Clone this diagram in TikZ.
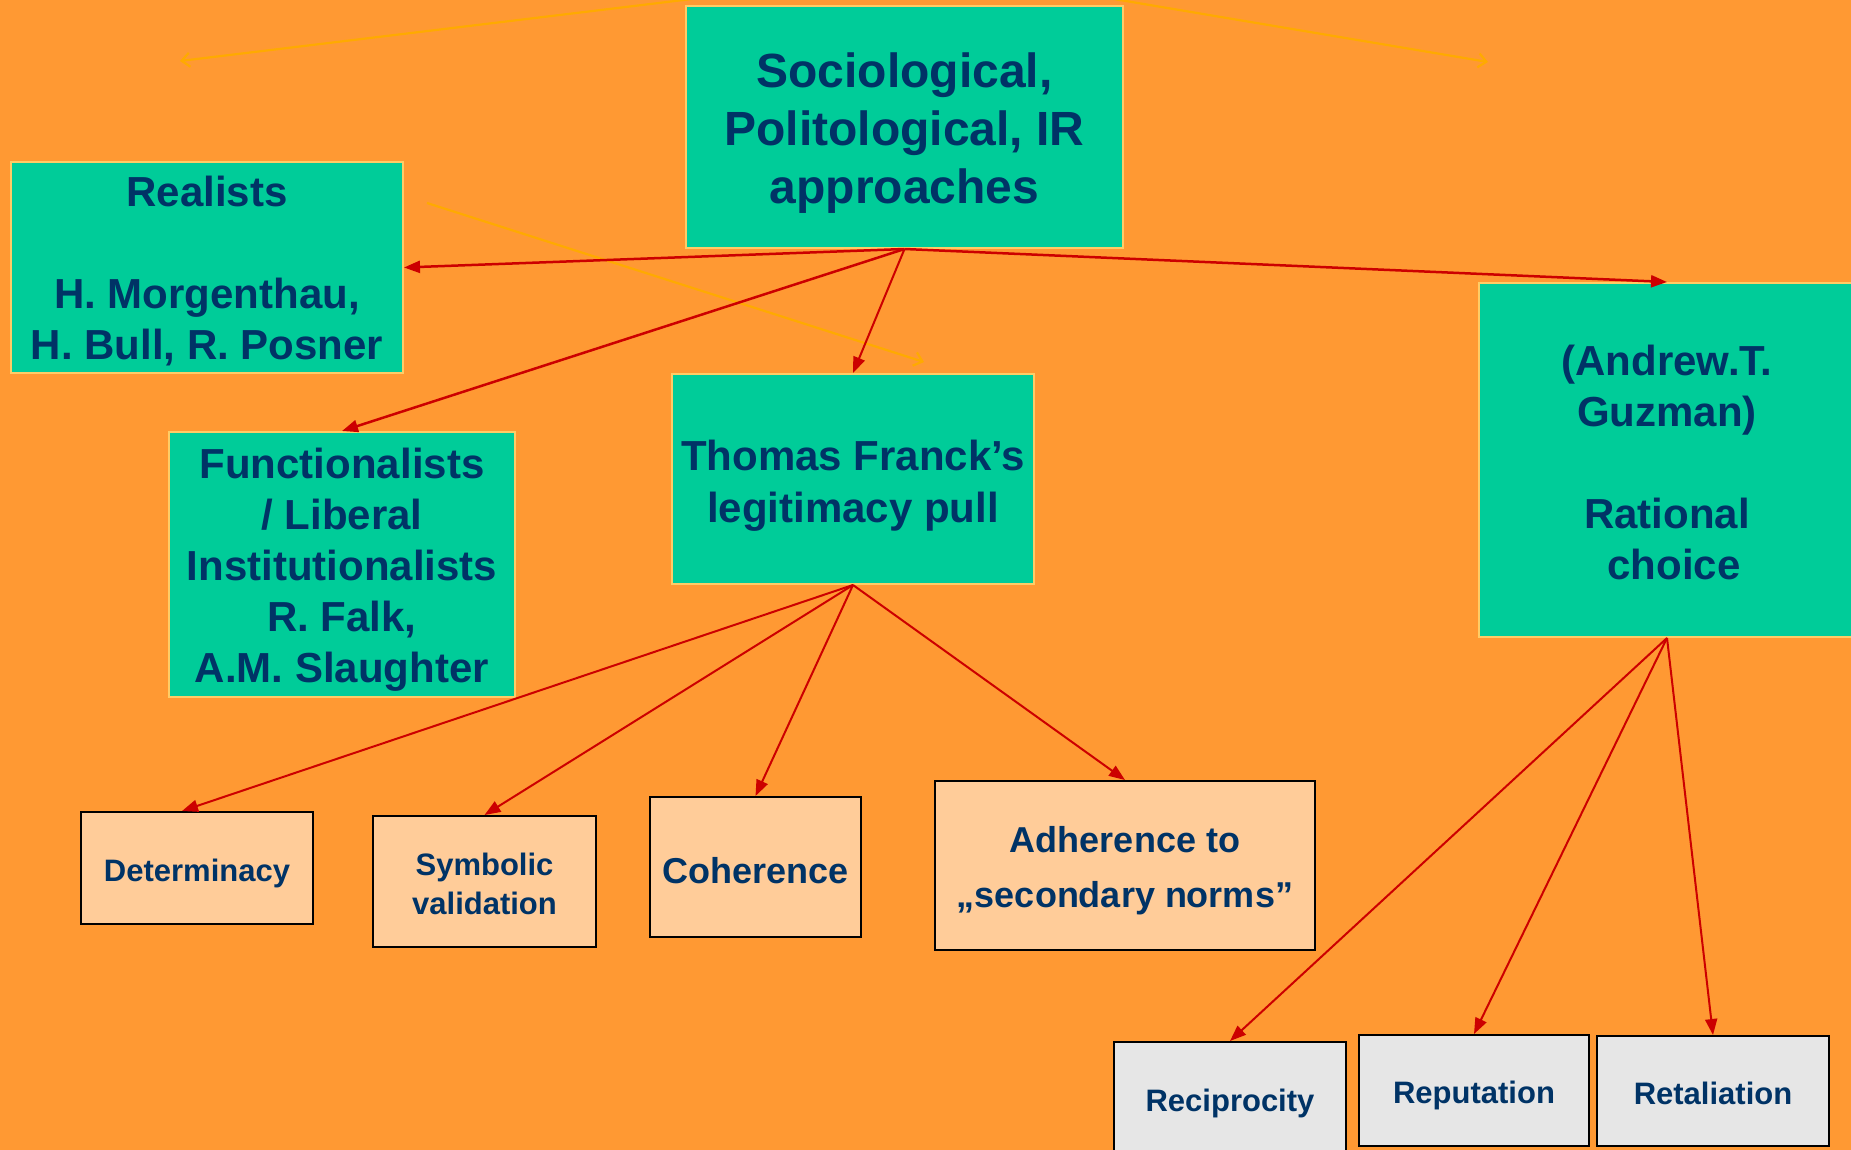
\documentclass[tikz,border=0pt]{standalone}
\usepackage{fontspec}
\setmainfont{Liberation Sans}
\usetikzlibrary{arrows.meta,calc}
\definecolor{bg}{HTML}{FF9933}
\definecolor{grn}{HTML}{00CC99}
\definecolor{navy}{HTML}{003366}
\definecolor{beige}{HTML}{FFCC99}
\definecolor{lgray}{HTML}{E6E6E6}
\definecolor{redline}{HTML}{CC0000}
\definecolor{goldline}{HTML}{FFAA00}
\definecolor{gborder}{HTML}{FFCC66}
\begin{document}
\begin{tikzpicture}[x=1pt,y=-1pt,
  gbox/.style={draw=gborder, line width=2pt, fill=grn, inner sep=0pt},
  bbox/.style={draw=black, line width=2pt, fill=beige, inner sep=0pt},
  wbox/.style={draw=black, line width=2pt, fill=lgray, inner sep=0pt},
  gtext/.style={text=navy, align=center, inner sep=0pt, yshift=-5pt, font=\fontsize{42}{51}\selectfont\bfseries},
  stext/.style={text=navy, align=center, inner sep=0pt, yshift=-4pt, font=\fontsize{31}{39}\selectfont\bfseries},
  rarr/.style={draw=redline, line width=2pt, -{Triangle[length=16pt,width=12pt]}},
  rarrb/.style={rarr, line width=2.5pt},
  oarr/.style={draw=goldline, line width=2.2pt, -{Straight Barb[length=8pt,width=14pt]}}]
\fill[bg] (0,0) rectangle (1851,1150);
\useasboundingbox (0,0) rectangle (1851,1150);
% orange free-end connectors
\coordinate (o1s) at (700,-2);
\coordinate (o1e) at (180,61);
\coordinate (o2s) at (1108,-2);
\coordinate (o2e) at (1488,62);
\coordinate (o3s) at (427,203);
\coordinate (o3e) at (924,362);
\draw[oarr] (o1s) -- (o1e);
\draw[oarr] (o2s) -- (o2e);
\draw[oarr] (o3s) -- (o3e);
% green boxes
\node[gbox, minimum width=437pt, minimum height=242pt] (top) at (904.5,127) {};
\node[gtext, yshift=-1pt, font=\fontsize{48}{58}\selectfont\bfseries] (topT) at (top.center) {Sociological,\\Politological, IR\\approaches};
\node[gbox, minimum width=392pt, minimum height=211pt] (real) at (207,267.5) {};
\node[gtext, yshift=1pt] (realT) at (real.center) {Realists\\\mbox{}\\H. Morgenthau,\\H. Bull, R. Posner};
\node[gbox, minimum width=346pt, minimum height=265pt] (func) at (342,564.5) {};
\node[gtext] (funcT) at (func.center) {Functionalists\\/ Liberal\\Institutionalists\\R. Falk,\\A.M. Slaughter};
\node[gbox, minimum width=362pt, minimum height=210pt] (franck) at (853,479) {};
\node[gtext, yshift=-1.5pt, font=\fontsize{42}{52}\selectfont\bfseries] (franckT) at (franck.center) {Thomas Franck’s\\legitimacy pull};
\node[gbox, minimum width=376pt, minimum height=354pt] (guz) at (1667,460) {};
\node[gtext, yshift=3pt] (guzT) at (guz.center) {(Andrew.T.\\Guzman)\\\mbox{}\\Rational\\\hspace*{14pt}choice};
% beige boxes
\node[bbox, minimum width=232pt, minimum height=112pt] (det) at (197,868) {};
\node[stext, yshift=-1pt] (detT) at (det.center) {Determinacy};
\node[bbox, minimum width=223pt, minimum height=131pt] (sym) at (484.5,881.5) {};
\node[stext, yshift=2pt] (symT) at (sym.center) {Symbolic\\validation};
\node[bbox, minimum width=211pt, minimum height=140pt] (coh) at (755.5,867) {};
\node[stext, font=\fontsize{36}{44}\selectfont\bfseries] (cohT) at (coh.center) {Coherence};
\node[bbox, minimum width=380pt, minimum height=169pt] (adh) at (1125,865.5) {};
\node[stext, yshift=-1pt, font=\fontsize{36}{55}\selectfont\bfseries] (adhT) at (adh.center) {Adherence to\\„secondary norms”};
% gray boxes
\node[wbox, minimum width=232pt, minimum height=114pt] (rec) at (1230,1099) {};
\node[stext] (recT) at (rec.center) {Reciprocity};
\node[wbox, minimum width=230pt, minimum height=111pt] (rep) at (1474,1090.5) {};
\node[stext, yshift=-1pt] (repT) at (rep.center) {Reputation};
\node[wbox, minimum width=232pt, minimum height=110pt] (ret) at (1713,1091) {};
\node[stext, yshift=2pt] (retT) at (ret.center) {Retaliation};
% red connectors
\draw[rarrb] (top.south) -- (real.east);
\draw[rarrb] (top.south) -- (func.north);
\draw[rarr] (top.south) -- (franck.north);
\draw[rarrb] (top.south) -- (guz.north);
\draw[rarr] (franck.south) -- ([xshift=-15pt]det.north);
\draw[rarr] (franck.south) -- (sym.north);
\draw[rarr] (franck.south) -- (coh.north);
\draw[rarr] (franck.south) -- (adh.north);
\draw[rarr] (guz.south) -- (rec.north);
\draw[rarr] (guz.south) -- (rep.north);
\draw[rarr] (guz.south) -- (ret.north);
\end{tikzpicture}
\end{document}
